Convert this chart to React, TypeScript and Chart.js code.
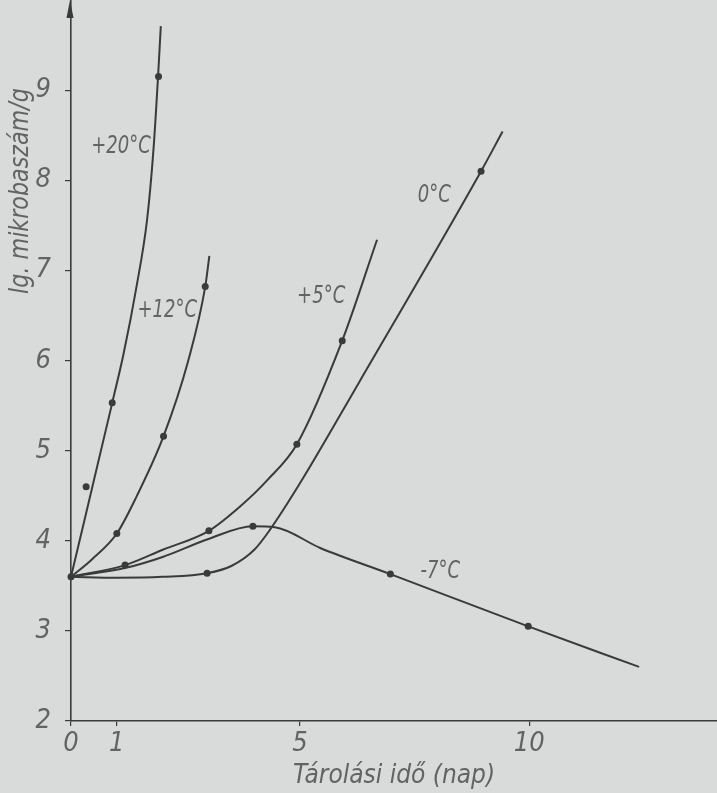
import React, { useEffect, useRef } from "react";
import { Chart, registerables } from "chart.js";

Chart.register(...registerables);

// ---- axis ticks ----
const xTicks = [0, 1, 5, 10];
const yTicks = [2, 3, 4, 5, 6, 7, 8, 9];

// ---- curve paths (days, lg count) ----
const p20x = [0, 0.9, 1.15, 1.43, 1.66, 1.8, 1.9, 1.96];
const p20y = [3.6, 5.53, 6.08, 6.82, 7.56, 8.34, 9.15, 9.71];
const p12x = [0, 0.45, 1.0, 1.43, 2.02, 2.56, 2.93, 3.02];
const p12y = [3.6, 3.79, 4.08, 4.49, 5.16, 6.0, 6.82, 7.16];
const p5x = [0, 1.18, 2.0, 3.01, 3.69, 4.28, 4.93, 5.92, 6.68];
const p5y = [3.6, 3.73, 3.9, 4.11, 4.38, 4.67, 5.07, 6.22, 7.34];
const p0x = [0, 1, 2, 2.97, 3.5, 4.0, 4.34, 5.0, 6.29, 8.95, 9.42];
const p0y = [3.6, 3.59, 3.6, 3.64, 3.72, 3.9, 4.12, 4.64, 5.76, 8.1, 8.54];
const pm7x = [0, 1.2, 2.0, 3.0, 3.97, 4.45, 5.44, 6.97, 9.98, 12.4];
const pm7y = [3.6, 3.7, 3.82, 4.02, 4.16, 4.15, 3.92, 3.63, 3.05, 2.6];

// ---- measured points ----
const d20x = [0.33, 0.9, 1.91];
const d20y = [4.6, 5.53, 9.15];
const d12x = [1.0, 2.02, 2.93];
const d12y = [4.08, 5.16, 6.82];
const d5x = [1.18, 3.01, 4.93, 5.92];
const d5y = [3.73, 4.11, 5.07, 6.22];
const d0x = [0, 2.97, 8.95];
const d0y = [3.6, 3.64, 8.1];
const dm7x = [3.97, 6.97, 9.98];
const dm7y = [4.16, 3.63, 3.05];

// ---- curve labels ----
const seriesNames = ["+20°C", "+12°C", "+5°C", "0°C", "-7°C"];
const labelX = [1.09, 2.1, 5.46, 7.93, 8.06];
const labelY = [8.37, 6.55, 6.71, 7.83, 3.66];

const xTitle = "Tárolási idő (nap)";
const yTitle = "lg. mikrobaszám/g";
const yTitleAt = 7.88;

const BG = "#d9dbdb";
const INK = "#3a3a3a";
const TEXT = "#636363";
const FAMILY = "'DejaVu Sans Condensed', 'Liberation Sans Narrow', 'DejaVu Sans', sans-serif";

const zip = (xs: number[], ys: number[]) => xs.map((x, i) => ({ x, y: ys[i] }));

const decor = {
  id: "decor",
  beforeDraw(chart: any) {
    const ctx = chart.ctx;
    ctx.save();
    ctx.fillStyle = BG;
    ctx.fillRect(0, 0, chart.width, chart.height);
    ctx.restore();
  },
  afterDraw(chart: any) {
    const { ctx } = chart;
    const xs = chart.scales.x;
    const ys = chart.scales.y;
    const ax = xs.getPixelForValue(0) - 1;
    ctx.save();
    ctx.fillStyle = INK;
    ctx.beginPath();
    ctx.moveTo(ax, 0);
    ctx.lineTo(ax - 3.5, 18);
    ctx.lineTo(ax + 3.5, 18);
    ctx.closePath();
    ctx.fill();

    ctx.fillStyle = TEXT;
    ctx.textAlign = "center";
    ctx.textBaseline = "middle";
    ctx.font = "italic 25px " + FAMILY;
    seriesNames.forEach((n, i) => {
      const px = xs.getPixelForValue(labelX[i]);
      const py = ys.getPixelForValue(labelY[i]);
      ctx.save();
      ctx.translate(px, py);
      ctx.scale(0.8, 1);
      ctx.fillText(n, 0, 0);
      ctx.restore();
    });
    ctx.save();
    ctx.font = "italic 26px " + FAMILY;
    ctx.translate(21, ys.getPixelForValue(yTitleAt));
    ctx.rotate(-Math.PI / 2);
    ctx.scale(0.95, 1);
    ctx.fillText(yTitle, 0, 0);
    ctx.restore();
    ctx.restore();
  },
};

export default function App() {
  const ref = useRef<HTMLCanvasElement>(null);
  useEffect(() => {
    document.body.style.margin = "0";
    document.body.style.background = BG;
    const lineDs = (xs: number[], ys: number[]) => ({
      data: zip(xs, ys),
      borderColor: INK,
      borderWidth: 2,
      pointRadius: 0,
      cubicInterpolationMode: "monotone" as const,
      fill: false,
      clip: false as const,
    });
    const dotDs = (xs: number[], ys: number[]) => ({
      data: zip(xs, ys),
      showLine: false,
      pointRadius: 3.5,
      pointBackgroundColor: INK,
      pointBorderWidth: 0,
      borderColor: INK,
      clip: false as const,
    });
    const chart = new Chart(ref.current!, {
      type: "line",
      data: {
        datasets: [
          lineDs(p20x, p20y),
          lineDs(p12x, p12y),
          lineDs(p5x, p5y),
          lineDs(p0x, p0y),
          lineDs(pm7x, pm7y),
          dotDs(d20x, d20y),
          dotDs(d12x, d12y),
          dotDs(d5x, d5y),
          dotDs(d0x, d0y),
          dotDs(dm7x, dm7y),
        ],
      },
      options: {
        responsive: false,
        animation: false,
        layout: { padding: 0, autoPadding: false },
        plugins: { legend: { display: false }, tooltip: { enabled: false } },
        scales: {
          x: {
            type: "linear",
            min: 0,
            max: 14.1,
            afterFit: (s: any) => {
              s.height = 72;
              s.paddingLeft = 0;
              s.paddingRight = 0;
            },
            afterBuildTicks: (s: any) => {
              s.ticks = xTicks.map((v) => ({ value: v }));
            },
            grid: { display: true, drawOnChartArea: false, drawTicks: true, tickLength: 5, color: INK, lineWidth: 1.2 },
            border: { display: true, color: INK, width: 1.6 },
            ticks: {
              color: TEXT,
              font: { family: FAMILY, size: 27, style: "italic" },
              padding: 2,
              maxRotation: 0,
              autoSkip: false,
            },
            title: {
              display: true,
              text: xTitle,
              color: TEXT,
              font: { family: FAMILY, size: 26, style: "italic" },
              padding: { top: 0, bottom: 1 },
            },
          },
          y: {
            type: "linear",
            min: 2,
            max: 10,
            afterFit: (s: any) => {
              s.width = 71;
              s.paddingTop = 0;
              s.paddingBottom = 0;
            },
            afterBuildTicks: (s: any) => {
              s.ticks = yTicks.map((v) => ({ value: v }));
            },
            grid: { display: true, drawOnChartArea: false, drawTicks: true, tickLength: 6, color: INK, lineWidth: 1.2 },
            border: { display: true, color: INK, width: 1.6 },
            ticks: {
              color: TEXT,
              font: { family: FAMILY, size: 27, style: "italic" },
              padding: 14,
              autoSkip: false,
            },
          },
        },
      },
      plugins: [decor],
    });
    return () => chart.destroy();
  }, []);
  return (
    <div style={{ width: 717, height: 793 }}>
      <canvas ref={ref} width={717} height={793} style={{ display: "block" }} />
    </div>
  );
}
